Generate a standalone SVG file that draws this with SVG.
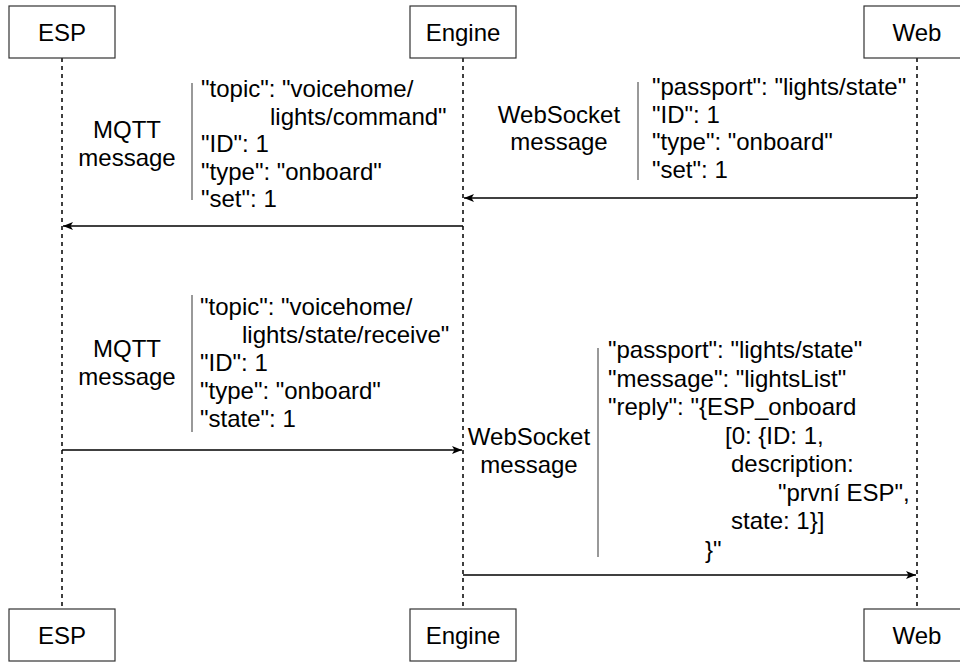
<svg xmlns="http://www.w3.org/2000/svg" width="960" height="662" viewBox="0 0 960 662">
  <style>
    .box { fill: #ffffff; stroke: #333333; stroke-width: 1.2; }
    .life { stroke: #000000; stroke-width: 1.5; stroke-dasharray: 4 4; fill: none; }
    .msg { stroke: #000000; stroke-width: 1.5; fill: none; }
    .sep { stroke: #555555; stroke-width: 1.2; }
    text { font-family: "Liberation Sans", Arial, Helvetica, sans-serif; font-size: 24px; fill: #000000; }
    .c { text-anchor: middle; }
  </style>
  <defs>
    <marker id="arrow" viewBox="0 0 10 8" refX="10" refY="4" markerWidth="10" markerHeight="8" markerUnits="userSpaceOnUse" orient="auto">
      <path d="M0,0 L10,4 L0,8 L2.5,4 Z" fill="#000000"/>
    </marker>
  </defs>

  <rect width="960" height="662" fill="#ffffff"/>

  <!-- lifelines -->
  <g id="lifelines">
    <line class="life" x1="62" y1="58" x2="62" y2="609"/>
    <line class="life" x1="463" y1="58" x2="463" y2="609"/>
    <line class="life" x1="917" y1="58" x2="917" y2="609"/>
  </g>

  <!-- participants, top -->
  <g id="esp-top">
    <rect class="box" x="9" y="6" width="106" height="52"/>
    <text class="c" x="62" y="40.5">ESP</text>
  </g>
  <g id="engine-top">
    <rect class="box" x="410" y="6" width="106" height="52"/>
    <text class="c" x="463" y="40.5">Engine</text>
  </g>
  <g id="web-top">
    <rect class="box" x="864" y="6" width="106" height="52"/>
    <text class="c" x="917" y="40.5">Web</text>
  </g>

  <!-- participants, bottom -->
  <g id="esp-bottom">
    <rect class="box" x="9" y="609" width="106" height="52"/>
    <text class="c" x="62" y="643.5">ESP</text>
  </g>
  <g id="engine-bottom">
    <rect class="box" x="410" y="609" width="106" height="52"/>
    <text class="c" x="463" y="643.5">Engine</text>
  </g>
  <g id="web-bottom">
    <rect class="box" x="864" y="609" width="106" height="52"/>
    <text class="c" x="917" y="643.5">Web</text>
  </g>

  <!-- messages -->
  <g id="connectors">
    <line class="msg" x1="917" y1="198" x2="464" y2="198" marker-end="url(#arrow)"/>
    <line class="msg" x1="463" y1="226" x2="63" y2="226" marker-end="url(#arrow)"/>
    <line class="msg" x1="62" y1="450" x2="462" y2="450" marker-end="url(#arrow)"/>
    <line class="msg" x1="463" y1="575" x2="916" y2="575" marker-end="url(#arrow)"/>
  </g>

  <!-- payload: Engine -> ESP command -->
  <g id="mqtt-command">
    <text class="c" x="127" y="138">MQTT</text>
    <text class="c" x="127" y="166">message</text>
    <line class="sep" x1="192" y1="83" x2="192" y2="200"/>
    <text x="201" y="97">"topic": "voicehome/</text>
    <text x="270" y="124.5">lights/command"</text>
    <text x="201" y="152">"ID": 1</text>
    <text x="201" y="179.5">"type": "onboard"</text>
    <text x="201" y="207">"set": 1</text>
  </g>

  <!-- payload: Web -> Engine -->
  <g id="ws-set">
    <text class="c" x="559" y="123">WebSocket</text>
    <text class="c" x="559" y="150">message</text>
    <line class="sep" x1="638" y1="82" x2="638" y2="180"/>
    <text x="652" y="95">"passport": "lights/state"</text>
    <text x="652" y="123">"ID": 1</text>
    <text x="652" y="150">"type": "onboard"</text>
    <text x="652" y="178">"set": 1</text>
  </g>

  <!-- payload: ESP -> Engine state -->
  <g id="mqtt-state">
    <text class="c" x="127" y="357">MQTT</text>
    <text class="c" x="127" y="385">message</text>
    <line class="sep" x1="192" y1="295" x2="192" y2="432"/>
    <text x="200" y="315">"topic": "voicehome/</text>
    <text x="242" y="343">lights/state/receive"</text>
    <text x="200" y="371">"ID": 1</text>
    <text x="200" y="399">"type": "onboard"</text>
    <text x="200" y="427">"state": 1</text>
  </g>

  <!-- payload: Engine -> Web reply -->
  <g id="ws-reply">
    <text class="c" x="529" y="445">WebSocket</text>
    <text class="c" x="529" y="473">message</text>
    <line class="sep" x1="598" y1="348" x2="598" y2="557"/>
    <text x="608" y="358">"passport": "lights/state"</text>
    <text x="608" y="386.5">"message": "lightsList"</text>
    <text x="608" y="415">"reply": "{ESP_onboard</text>
    <text x="725" y="443.5">[0: {ID: 1,</text>
    <text x="731" y="472">description:</text>
    <text x="778" y="500.5">"první ESP",</text>
    <text x="731" y="529">state: 1}]</text>
    <text x="705" y="557.5">}"</text>
  </g>
</svg>
